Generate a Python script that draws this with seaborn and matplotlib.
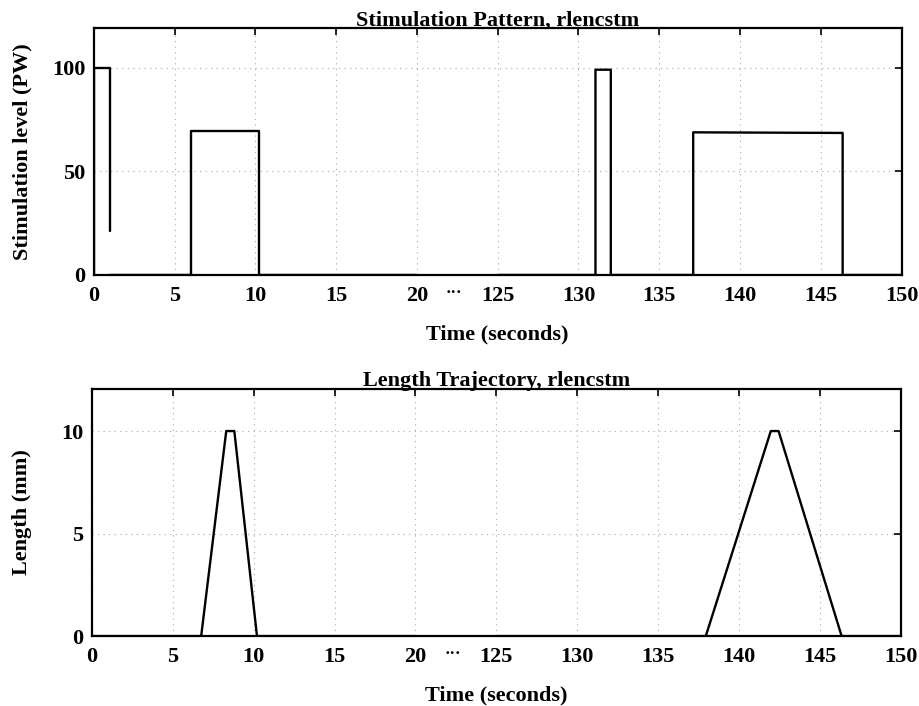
import numpy as np
import pandas as pd
import matplotlib
matplotlib.use("Agg")
import matplotlib.pyplot as plt
import seaborn as sns

# ---- data (times in seconds; the axis is broken between 20 and 125 s) ----
stim_seg = [0, 0, 0, 0,
            1, 1, 1, 1, 1, 1,
            2, 2, 2, 2, 2, 2, 2, 2, 2, 2]
stim_time = [0, 0, 0.99, 0.99,
             0.99, 6.0, 6.0, 10.25, 10.25, 20,
             125, 131.05, 131.05, 132.0, 132.0, 137.1, 137.1, 146.35, 146.35, 150]
stim_level = [0, 100, 100, 21,
              0, 0, 69.5, 69.5, 0, 0,
              0, 0, 99, 99, 0, 0, 68.8, 68.5, 0, 0]

len_seg = [0, 0, 0, 0, 0, 0, 0,
           1, 1, 1, 1, 1, 1, 1]
len_time = [0, 6.75, 8.3, 8.8, 10.2, 10.25, 20,
            125, 137.95, 141.97, 142.45, 146.35, 146.4, 150]
len_mm = [0, 0, 10, 10, 0, 0, 0,
          0, 0, 10, 10, 0, 0, 0]

tick_values = [0, 5, 10, 15, 20, 125, 130, 135, 140, 145, 150]
tick_labels = ["0", "5", "10", "15", "20", "125", "130", "135", "140", "145", "150"]
stim_yticks = [0, 50, 100]
len_yticks = [0, 5, 10]

BREAK_LO, BREAK_HI = 20, 125
GAP = BREAK_HI - BREAK_LO - 5  # 20 -> 125 occupies one tick step


def squeeze(t):
    t = np.asarray(t, dtype=float)
    return np.where(t >= BREAK_HI, t - GAP, t)


stim_df = pd.DataFrame({"seg": stim_seg, "pos": squeeze(stim_time), "val": stim_level})
len_df = pd.DataFrame({"seg": len_seg, "pos": squeeze(len_time), "val": len_mm})

sns.set_style("white")
plt.rcParams["font.family"] = ["Liberation Serif", "DejaVu Serif"]
plt.rcParams.update({"text.color": "black", "axes.labelcolor": "black",
                     "xtick.color": "black", "ytick.color": "black"})

fig = plt.figure(figsize=(9.2, 7.06), dpi=100)
ax1 = fig.add_axes([0.102, 0.6105, 0.878, 0.3495])
ax2 = fig.add_axes([0.100, 0.099, 0.879, 0.350])

FS = 16


def style(ax, yticks, ylim, ylabel, title, ylab_x):
    ax.set_xlim(0, 50)
    ax.set_ylim(*ylim)
    ax.set_xticks(squeeze(tick_values))
    ax.set_xticklabels(tick_labels, fontsize=FS, fontweight="bold")
    ax.set_yticks(yticks)
    ax.set_yticklabels([str(v) for v in yticks], fontsize=FS, fontweight="bold")
    ax.tick_params(axis="x", pad=8)
    ax.tick_params(axis="y", pad=6)
    ax.tick_params(direction="in", top=True, right=True, length=5, width=1.2,
                   colors="black")
    ax.grid(True, linestyle=(0, (1, 4)), color="#a8a8a8", lw=0.8)
    for sp in ax.spines.values():
        sp.set_visible(True)
        sp.set_color("black")
        sp.set_linewidth(1.6)
    ax.set_xlabel("Time (seconds)", fontsize=FS, fontweight="bold", labelpad=13)
    ax.set_ylabel(ylabel, fontsize=FS, fontweight="bold")
    ax.yaxis.set_label_coords(ylab_x, 0.5)
    ax.set_title(title, fontsize=FS, fontweight="semibold", pad=2, color="black")
    # ellipsis marking the axis break
    ax.annotate("\u00b7\u00b7\u00b7", xy=(22.3, 0), xycoords=ax.get_xaxis_transform(),
                xytext=(0, -7), textcoords="offset points", ha="center", va="top",
                fontsize=12, fontweight="bold")


sns.lineplot(data=stim_df, x="pos", y="val", units="seg", estimator=None, sort=False,
             color="black", lw=1.7, ax=ax1)
style(ax1, stim_yticks, (0, 119), "Stimulation level (PW)", "Stimulation Pattern, rlencstm", -0.076)

sns.lineplot(data=len_df, x="pos", y="val", units="seg", estimator=None, sort=False,
             color="black", lw=1.7, ax=ax2)
style(ax2, len_yticks, (0, 12.05), "Length (mm)", "Length Trajectory, rlencstm", -0.074)

fig.savefig("out.png", dpi=100)
